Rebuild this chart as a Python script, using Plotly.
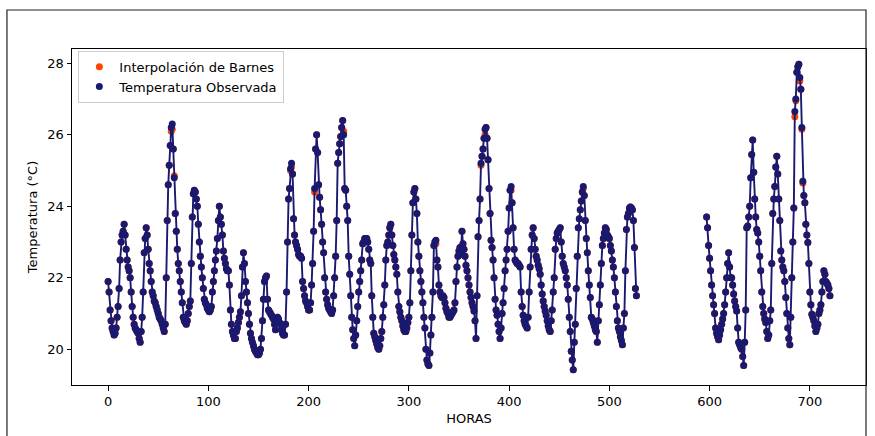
import plotly.graph_objects as go

# Hourly observed temperature (°C), first block of records: hours 0-527
hours_a = list(range(0, 528))
temp_a = [
    21.9, 21.6, 21.1, 20.8, 20.6, 20.5, 20.4, 20.45, 20.6, 20.9, 21.2, 21.7, 22.5, 23.0, 23.2, 23.3, 23.5, 23.2, 22.8, 22.5, 22.3, 22.2, 22.0, 21.6,
    21.2, 20.9, 20.7, 20.6, 20.55, 20.5, 20.45, 20.3, 20.2, 20.5, 20.9, 21.6, 22.7, 23.1, 23.4, 23.2, 22.8, 22.4, 22.2, 21.9, 21.6, 21.5, 21.35, 21.3,
    21.2, 21.1, 21.0, 20.9, 20.85, 20.8, 20.7, 20.6, 20.5, 20.7, 22.0, 23.6, 24.6, 25.15, 25.7, 26.2, 26.3, 25.6, 24.8, 23.8, 23.3, 22.8, 22.4, 22.2,
    21.9, 21.6, 21.3, 20.9, 20.8, 20.75, 20.7, 20.8, 21.0, 21.2, 21.35, 22.4, 23.7, 24.35, 24.45, 24.4, 24.2, 24.0, 23.5, 23.0, 22.6, 22.3, 22.0, 21.7,
    21.4, 21.3, 21.25, 21.15, 21.1, 21.05, 21.1, 21.2, 21.6, 21.9, 22.2, 22.5, 22.75, 23.1, 23.6, 24.0, 23.7, 23.5, 23.2, 22.75, 22.55, 22.4, 22.25, 22.2,
    22.2, 21.8, 21.1, 20.7, 20.5, 20.4, 20.3, 20.3, 20.5, 20.6, 20.75, 20.9, 21.05, 21.5, 22.3, 22.7, 22.4, 21.9, 21.6, 21.3, 21.0, 20.7, 20.45, 20.3,
    20.2, 20.1, 20.0, 19.95, 19.9, 19.85, 19.85, 19.9, 20.0, 20.3, 20.8, 21.4, 21.9, 22.0, 22.05, 21.4, 21.1, 21.05, 21.0, 20.95, 20.9, 20.85, 20.7, 20.55,
    20.8, 20.9, 20.85, 20.75, 20.7, 20.55, 20.45, 20.4, 20.4, 20.7, 21.6, 23.0, 24.2, 24.5, 25.05, 25.2, 24.9, 23.65, 23.2, 23.0, 22.9, 22.8, 22.65, 22.6,
    22.6, 22.55, 21.9, 21.7, 21.5, 21.35, 21.3, 21.2, 21.1, 21.1, 21.3, 21.8, 22.4, 23.3, 24.5, 25.6, 26.0, 25.5, 24.6, 24.25, 23.9, 23.5, 23.0, 22.7,
    22.0, 21.6, 21.4, 21.25, 21.15, 21.1, 21.05, 21.0, 21.1, 21.5, 22.0, 22.6, 23.6, 25.2, 25.5, 25.75, 25.95, 26.2, 26.4, 26.0, 24.5, 24.45, 24.0, 23.6,
    22.6, 22.1, 21.5, 20.9, 20.55, 20.3, 20.1, 20.4, 20.8, 21.2, 21.6, 21.9, 22.2, 22.5, 22.95, 23.0, 23.1, 23.1, 23.1, 23.0, 22.8, 22.5, 22.4, 21.5,
    20.9, 20.45, 20.35, 20.25, 20.15, 20.05, 20.0, 20.1, 20.3, 20.5, 20.9, 21.25, 21.8, 22.5, 22.9, 23.0, 23.2, 23.4, 23.5, 23.2, 22.9, 22.65, 22.5, 22.3,
    22.1, 21.6, 21.2, 21.05, 20.9, 20.8, 20.65, 20.55, 20.5, 20.5, 20.6, 20.75, 20.9, 21.3, 22.2, 23.2, 24.1, 24.4, 24.5, 24.2, 23.8, 23.0, 22.6, 22.2,
    21.9, 21.6, 21.3, 20.9, 20.6, 20.0, 19.7, 19.6, 19.55, 19.9, 20.4, 20.9, 21.6, 22.9, 23.0, 23.05, 22.5, 22.3, 21.8, 21.6, 21.5, 21.45, 21.5, 21.45,
    21.3, 21.15, 21.05, 21.0, 20.9, 20.9, 20.95, 21.0, 21.05, 21.1, 21.3, 21.9, 22.3, 22.6, 22.75, 22.85, 22.65, 23.3, 22.95, 22.8, 22.6, 22.35, 22.2, 22.0,
    21.8, 21.6, 21.45, 21.3, 21.2, 21.07, 20.8, 20.3, 21.5, 23.15, 23.6, 24.2, 25.2, 25.4, 25.6, 25.9, 26.15, 26.2, 25.9, 25.3, 24.5, 23.8, 23.05, 22.85,
    22.5, 22.0, 21.4, 21.1, 20.95, 20.7, 20.5, 20.3, 20.6, 21.0, 21.3, 21.7, 22.2, 22.5, 22.8, 23.3, 23.95, 24.45, 24.55, 24.1, 23.4, 22.8, 22.5, 22.45,
    22.4, 22.4, 22.35, 22.3, 21.6, 21.2, 20.95, 20.8, 20.7, 20.65, 20.6, 20.9, 21.6, 22.3, 22.8, 23.2, 23.4, 23.1, 22.8, 22.6, 22.5, 22.35, 22.25, 22.1,
    21.8, 21.55, 21.35, 21.2, 21.07, 20.95, 20.8, 20.65, 20.55, 20.5, 20.8, 21.1, 21.6, 22.0, 22.8, 23.1, 23.25, 23.3, 23.35, 23.4, 23.0, 22.6, 22.4, 22.3,
    22.2, 22.0, 21.8, 21.4, 20.9, 20.5, 19.95, 19.7, 19.43, 20.2, 20.7, 21.7, 22.6, 23.4, 23.65, 23.9, 24.15, 24.4, 24.55, 24.3, 23.6, 23.1, 22.7, 22.2,
    21.8, 21.45, 20.9, 20.85, 20.75, 20.65, 20.55, 20.5, 20.2, 20.8, 21.25, 21.8, 22.4, 22.9, 23.1, 23.25, 23.4, 23.35, 23.2, 23.15, 23.1, 22.9, 22.75, 22.5,
    22.3, 22.0, 21.6, 21.2, 20.8, 20.6, 20.5, 20.35, 20.25, 20.13, 20.6, 21.0, 22.2, 23.35, 23.7, 23.8, 23.95, 23.98, 23.95, 23.9, 23.6, 22.85, 21.7, 21.5,
]

# Second block of records after the gap: hours 597-720
hours_b = list(range(597, 721))
temp_b = [
    23.7, 23.4, 22.9, 22.55, 22.2, 21.8, 21.5, 21.25, 21.0, 20.6, 20.45, 20.35, 20.27, 20.4, 20.55, 20.7, 20.85, 21.0, 21.25, 21.6, 22.0, 22.4, 22.7, 22.3,
    22.0, 22.0, 21.8, 21.55, 21.35, 21.2, 21.07, 20.6, 20.2, 20.13, 20.05, 20.0, 19.8, 19.55, 20.2, 21.1, 23.4, 23.45, 23.7, 24.0, 24.8, 25.45, 25.85, 24.95,
    24.2, 23.7, 23.35, 23.25, 23.0, 22.6, 22.2, 21.6, 21.2, 21.0, 20.85, 20.75, 20.5, 20.3, 20.4, 20.8, 21.1, 22.4, 23.8, 24.2, 24.55, 25.1, 25.4, 24.9,
    24.2, 23.6, 22.75, 22.5, 22.3, 22.2, 21.9, 21.45, 21.0, 20.6, 20.3, 20.13, 20.9, 22.0, 23.0, 23.95, 26.65, 27.0, 27.75, 27.9, 27.97, 27.6, 27.27, 26.2,
    24.7, 24.3, 24.1, 23.5, 23.2, 22.99, 22.4, 21.6, 21.25, 20.98, 20.9, 20.8, 20.65, 20.5, 20.6, 20.7, 21.0, 21.1, 21.25, 21.6, 21.9, 22.2, 22.1, 21.9,
    21.85, 21.8, 21.7, 21.5,
]

# Hours where the Barnes interpolation departs from the observation
barnes_diff = {
    63: 26.1, 64: 26.15, 66: 24.85, 182: 25.0, 183: 25.1, 206: 24.4,
    235: 26.1, 327: 22.95, 372: 25.15, 376: 26.0, 402: 24.45, 474: 24.5,
    520: 23.9, 685: 26.5, 686: 26.95, 690: 27.5, 692: 26.15, 693: 24.65,
}

x_ticks = [0, 100, 200, 300, 400, 500, 600, 700]
y_ticks = [20, 22, 24, 26, 28]

hours = hours_a + hours_b
observed = temp_a + temp_b
barnes = [barnes_diff.get(h, t) for h, t in zip(hours, observed)]

NAVY = "#191970"
ORANGE = "#ff4500"
FONT = "DejaVu Sans"
FS = 13

fig = go.Figure()
fig.add_trace(go.Scatter(
    x=hours, y=barnes, mode="markers", name="Interpolación de Barnes",
    marker=dict(color=ORANGE, size=7, line=dict(width=0)),
))
fig.add_trace(go.Scatter(
    x=hours_a + [None] + hours_b, y=temp_a + [None] + temp_b, mode="lines",
    line=dict(color=NAVY, width=1.9), showlegend=False, hoverinfo="skip",
))
fig.add_trace(go.Scatter(
    x=hours, y=observed, mode="markers", name="Temperatura Observada",
    marker=dict(color=NAVY, size=7, line=dict(width=0)),
))

lo = min(observed + barnes)
hi = max(observed + barnes)
pad = 0.05 * (hi - lo)
x_lo, x_hi = min(hours), max(hours)
x_pad = 0.05 * (x_hi - x_lo)

axis_style = dict(
    showline=True, mirror=True, linecolor="black", linewidth=1,
    ticks="outside", ticklen=4.5, tickwidth=1, tickcolor="black",
    showgrid=False, zeroline=False,
    tickfont=dict(family=FONT, size=FS, color="black"),
)

fig.update_xaxes(
    range=[x_lo - x_pad, x_hi + x_pad], tickvals=x_ticks,
    title=dict(text="HORAS", font=dict(family=FONT, size=FS), standoff=5),
    **axis_style,
)
fig.update_yaxes(
    range=[lo - pad, hi + pad], tickvals=y_ticks,
    title=dict(text="Temperatura (°C)", font=dict(family=FONT, size=FS), standoff=6),
    **axis_style,
)

# Outer figure frame (left, top and right edges; bottom falls below the page)
fig.add_shape(
    type="rect", xref="paper", yref="paper",
    x0=-0.0819, x1=1.0, y0=-0.3, y1=1.116,
    line=dict(color="#222222", width=1.2), fillcolor="rgba(0,0,0,0)",
)

fig.update_layout(
    width=875, height=436,
    margin=dict(l=72, r=9, t=49, b=51),
    paper_bgcolor="white", plot_bgcolor="white",
    font=dict(family=FONT, size=FS, color="black"),
    legend=dict(
        x=0.008, y=0.995, xanchor="left", yanchor="top",
        bordercolor="#cccccc", borderwidth=1, bgcolor="rgba(255,255,255,0.8)",
        font=dict(family=FONT, size=FS), tracegroupgap=2,
    ),
)

fig.write_html("out.html")
